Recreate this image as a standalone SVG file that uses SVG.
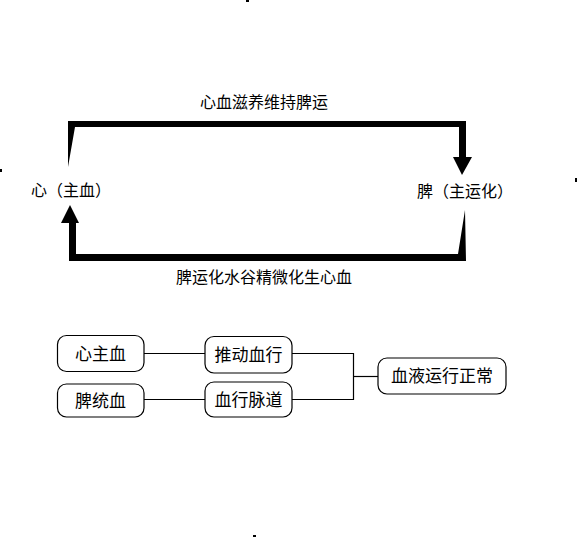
<svg xmlns="http://www.w3.org/2000/svg" width="577" height="537" viewBox="0 0 577 537">
<style>
  text { font-family: "Noto Sans CJK SC", "Noto Sans", sans-serif; fill: #000; }
  .lbl { font-size: 16px; }
  .box rect { fill: #fff; stroke: #000; stroke-width: 1.2; }
  .box text { font-size: 17px; text-anchor: middle; }
  .conn line, .conn polyline { stroke: #000; stroke-width: 1.2; fill: none; }
  .thick { fill: #000; stroke: none; }
</style>
<rect width="577" height="537" fill="#fff"/>

<g id="marks" fill="#000">
  <rect x="246" y="0" width="3" height="2"/>
  <rect x="253" y="535" width="3" height="2"/>
  <rect x="0" y="169" width="2" height="3"/>
  <rect x="575" y="178" width="2" height="4"/>
</g>

<g id="connectors">
  <polygon class="thick" points="68,167 68,121 466,121 466,157 472,157 462,175 453,157 459,157 459,127 75,127"/>
  <polygon class="thick" points="465,210 466,261 69,261 69,223 61,223 70,205 79,223 76,223 76,254 458,254"/>
  <g class="conn">
    <line x1="144" y1="353.5" x2="205" y2="353.5"/>
    <line x1="144" y1="399.5" x2="205" y2="399.5"/>
    <polyline points="292,353.5 353.5,353.5 353.5,399.5 292,399.5"/>
    <line x1="353.5" y1="376.5" x2="378" y2="376.5"/>
  </g>
</g>

<g id="label-top"><text class="lbl" x="264" y="108" text-anchor="middle">心血滋养维持脾运</text></g>
<g id="label-bottom"><text class="lbl" x="264" y="283" text-anchor="middle">脾运化水谷精微化生心血</text></g>

<g id="node-heart"><text class="lbl" x="71" y="196" text-anchor="middle">心（主血）</text></g>
<g id="node-spleen"><text class="lbl" x="465" y="197" text-anchor="middle">脾（主运化）</text></g>

<g id="node-xinzhuxue" class="box">
  <rect x="57.5" y="335.5" width="86.5" height="36" rx="9"/>
  <text x="100.5" y="359.5">心主血</text>
</g>
<g id="node-pitongxue" class="box">
  <rect x="57.5" y="384" width="86.5" height="33" rx="9"/>
  <text x="100.5" y="406.5">脾统血</text>
</g>
<g id="node-tuidong" class="box">
  <rect x="205" y="336.5" width="87" height="36.5" rx="9"/>
  <text x="248.5" y="361">推动血行</text>
</g>
<g id="node-xuexing" class="box">
  <rect x="205" y="382" width="87" height="35" rx="9"/>
  <text x="248.5" y="405.5">血行脉道</text>
</g>
<g id="node-zhengchang" class="box">
  <rect x="378" y="358" width="128" height="36" rx="9"/>
  <text x="442" y="382">血液运行正常</text>
</g>
</svg>
